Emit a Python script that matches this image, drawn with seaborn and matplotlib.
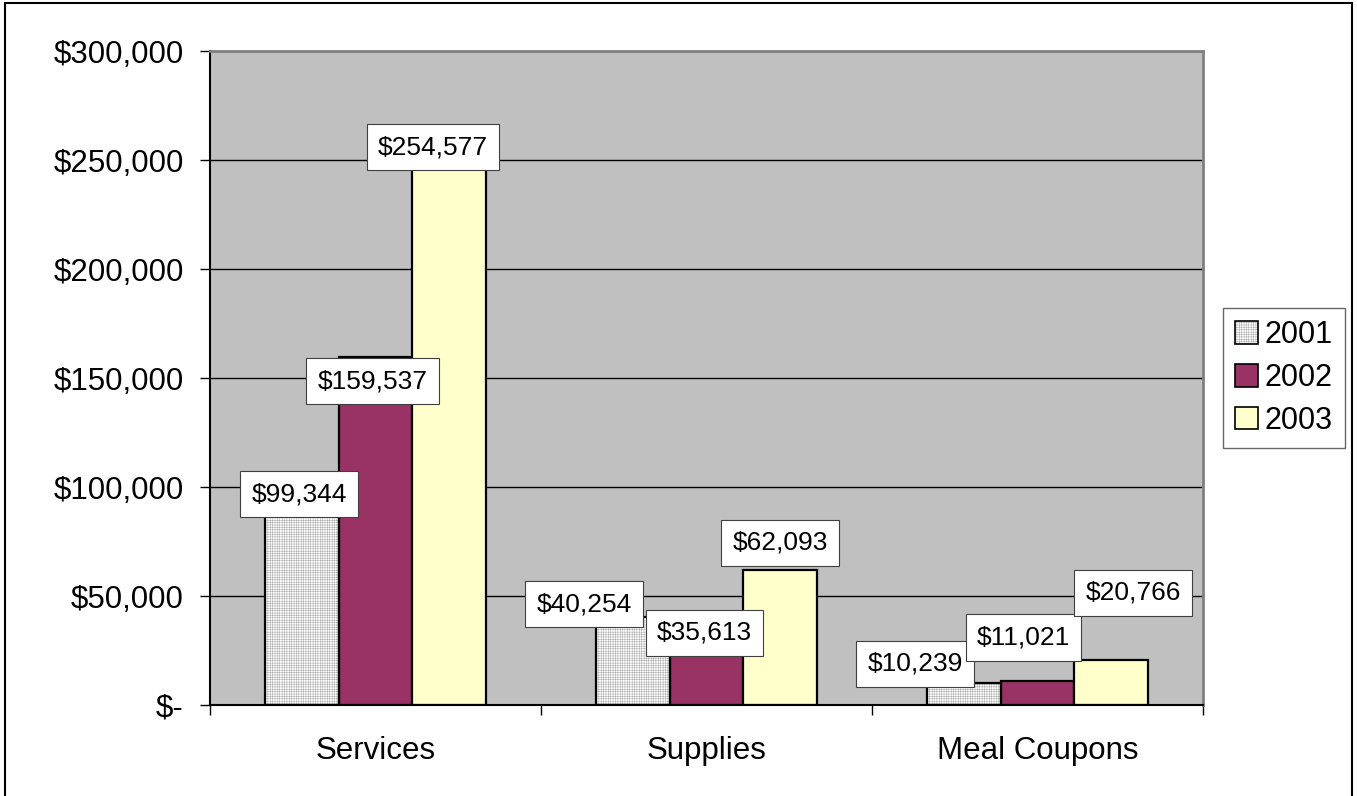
import matplotlib
matplotlib.use("Agg")
import matplotlib.pyplot as plt
import seaborn as sns
import pandas as pd
from matplotlib.patches import Rectangle, Patch
from matplotlib.legend_handler import HandlerTuple

# ---------------- data ----------------
categories = ["Services", "Supplies", "Meal Coupons"]
years = ["2001", "2002", "2003"]
values_2001 = [99344, 40254, 10239]
values_2002 = [159537, 35613, 11021]
values_2003 = [254577, 62093, 20766]
y_ticks = [0, 50000, 100000, 150000, 200000, 250000, 300000]
y_tick_labels = ["$-", "$50,000", "$100,000", "$150,000", "$200,000", "$250,000", "$300,000"]

# label placement offsets (pixels, relative to top-centre of each bar; dy positive = downward)
label_dx = {"2001": [-3, -49, -49], "2002": [-3, -2, -14], "2003": [-16, 0, 22]}
label_dy = {"2001": [5.6, -13, -19], "2002": [24, 5.6, -43.5], "2003": [-3, -27, -67]}

colors = {"2001": "#FFFFFF", "2002": "#993366", "2003": "#FFFFCC"}

series = {"2001": values_2001, "2002": values_2002, "2003": values_2003}
rows = []
for yr in years:
    for cat, v in zip(categories, series[yr]):
        rows.append({"category": cat, "year": yr, "value": v})
df = pd.DataFrame(rows)

# ---------------- style ----------------
sns.set_style("white")
plt.rcParams["font.family"] = ["Liberation Sans", "DejaVu Sans"]
plt.rcParams["hatch.linewidth"] = 0.35
for k in ["text.color", "xtick.color", "ytick.color", "axes.labelcolor"]:
    plt.rcParams[k] = "black"

W, H = 1357, 796
fig = plt.figure(figsize=(W / 100, H / 100), dpi=100)
fig.patch.set_facecolor("white")
ax = fig.add_axes([210 / W, 1 - 705 / H, (1203 - 210) / W, (705 - 51) / H])
ax.set_facecolor("#C0C0C0")

sns.barplot(data=df, x="category", y="value", hue="year", order=categories,
            hue_order=years, palette=colors, width=0.667, gap=0,
            edgecolor="black", linewidth=1.6, saturation=1, legend=False, ax=ax)

hatch_gray = "#A8A8A8"
# hatch 2001 bars with fine gray grid, then outline in black
for p in ax.containers[0]:
    p.set_hatch("+++++++")
    p.set_edgecolor(hatch_gray)
    p.set_linewidth(0)
    ax.add_patch(Rectangle(p.get_xy(), p.get_width(), p.get_height(), fill=False,
                           edgecolor="black", lw=1.6, zorder=2.5))

ax.set_ylim(0, 300000)
ax.set_xlim(-0.5, 2.5)
ax.set_yticks(y_ticks)
ax.set_yticklabels(y_tick_labels)
ax.set_xlabel("")
ax.set_ylabel("")

ax.yaxis.grid(True, color="black", lw=1)
ax.set_axisbelow(True)

ax.tick_params(axis="y", direction="out", length=7, width=1, pad=12, labelsize=22.5,
               left=True, colors="black")
ax.set_xticks([0, 1, 2])
ax.set_xticklabels(categories)
ax.tick_params(axis="x", length=0, pad=22, labelsize=22.5, colors="black")
# category boundary ticks
ax.set_xticks([0.5, 1.5, 2.5, -0.5], minor=True)
ax.tick_params(axis="x", which="minor", direction="out", length=7, width=1, bottom=True,
               colors="black")

for s in ["left", "bottom"]:
    ax.spines[s].set_color("black")
    ax.spines[s].set_linewidth(1.5)
for s in ["top", "right"]:
    ax.spines[s].set_color("#808080")
    ax.spines[s].set_linewidth(2)

# data labels
for yi, yr in enumerate(years):
    cont = ax.containers[yi]
    for ci, p in enumerate(cont):
        x = p.get_x() + p.get_width() / 2
        v = series[yr][ci]
        ax.annotate(f"${v:,}", xy=(x, v), xytext=(label_dx[yr][ci], -label_dy[yr][ci]),
                    textcoords="offset pixels", ha="center", va="center", fontsize=19,
                    color="black", zorder=5,
                    bbox=dict(boxstyle="square,pad=0.42", facecolor="white",
                              edgecolor="#404040", linewidth=0.8))

# legend
h2001 = (Patch(facecolor="white", edgecolor=hatch_gray, hatch="+++++++", linewidth=0),
         Patch(facecolor="none", edgecolor="black", linewidth=1.2))
handles = [
    h2001,
    Patch(facecolor=colors["2002"], edgecolor="black", linewidth=1.2),
    Patch(facecolor=colors["2003"], edgecolor="black", linewidth=1.2),
]
leg = ax.legend(handles=handles, labels=years, loc="center",
                bbox_to_anchor=(1284 / W, 1 - 378 / H),
                bbox_transform=fig.transFigure, fontsize=22, frameon=True, fancybox=False,
                handlelength=0.75, handleheight=0.75, handletextpad=0.2, labelspacing=0.42,
                borderpad=0.4, borderaxespad=0,
                handler_map={tuple: HandlerTuple(ndivide=1)})
leg.get_frame().set_edgecolor("#404040")
leg.get_frame().set_linewidth(1)
for t in leg.get_texts():
    t.set_color("black")

# outer chart border
fig.patches.append(Rectangle((5 / W, -0.01), (1352 - 5) / W, 1 - 3 / H + 0.01,
                             transform=fig.transFigure, fill=False, edgecolor="black",
                             lw=1.5))

fig.savefig("out.png", dpi=100)
